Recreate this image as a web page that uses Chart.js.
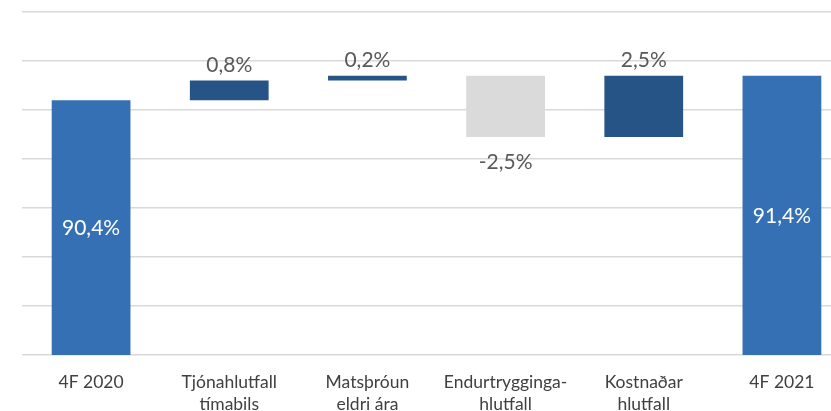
<!DOCTYPE html>
<html>
<head>
<meta charset="utf-8">
<script src="https://cdn.jsdelivr.net/npm/chart.js@4"></script>
<style>
  html, body { margin: 0; padding: 0; background: #fff; overflow: hidden; width: 831px; height: 411px; }
  #wrap { position: relative; width: 852px; height: 431px; }
</style>
</head>
<body>
<div id="wrap"><canvas id="chart"></canvas></div>
<script>
// ---- data ----
const categories = [
  '4F 2020',
  ['Tjónahlutfall', 'tímabils'],
  ['Matsþróun', 'eldri ára'],
  ['Endurtrygginga-', 'hlutfall'],
  ['Kostnaðar', 'hlutfall'],
  '4F 2021'
];
const startValue = 90.4;
const changes = [0.8, 0.2, -2.5, 2.5];
const endValue = 91.4;
const yTicks = { min: 80, max: 94, step: 2 };

const TOTAL_COLOR = '#3570b4';
const UP_COLOR = '#265486';
const DOWN_COLOR = '#d9dad9';
const LABEL_GREY = '#595959';

// build floating bars for the waterfall
const bars = [[yTicks.min, startValue]];
const barKinds = ['total'];
let running = startValue;
changes.forEach(c => {
  const next = Math.round((running + c) * 10) / 10;
  bars.push([Math.min(running, next), Math.max(running, next)]);
  barKinds.push(c >= 0 ? 'up' : 'down');
  running = next;
});
bars.push([yTicks.min, endValue]);
barKinds.push('total');
const labelValues = [startValue, ...changes, endValue];

const colorFor = k => k === 'total' ? TOTAL_COLOR : k === 'up' ? UP_COLOR : DOWN_COLOR;
const fmt = v => v.toFixed(1).replace('.', ',') + '%';

const labelPlugin = {
  id: 'wfLabels',
  afterDatasetsDraw(chart) {
    const ctx = chart.ctx;
    const meta = chart.getDatasetMeta(0);
    ctx.save();
    ctx.font = '21px Lato';
    ctx.textAlign = 'center';
    ctx.textBaseline = 'middle';
    meta.data.forEach((bar, i) => {
      const kind = barKinds[i];
      const top = Math.min(bar.y, bar.base);
      const bottom = Math.max(bar.y, bar.base);
      let y;
      if (kind === 'total') {
        ctx.fillStyle = '#ffffff';
        y = (top + bottom) / 2 + 1;
      } else if (kind === 'up') {
        ctx.fillStyle = LABEL_GREY;
        y = top - 15;
      } else {
        ctx.fillStyle = LABEL_GREY;
        y = bottom + 25;
      }
      ctx.fillText(fmt(labelValues[i]), bar.x, y);
    });
    ctx.restore();
  }
};

new Chart(document.getElementById('chart'), {
  type: 'bar',
  data: {
    labels: categories,
    datasets: [{
      data: bars,
      backgroundColor: barKinds.map(colorFor),
      borderWidth: 0,
      categoryPercentage: 1,
      barPercentage: 0.57
    }]
  },
  options: {
    responsive: true,
    maintainAspectRatio: false,
    animation: false,
    layout: { padding: { left: 22, right: 1, top: 12, bottom: 0 } },
    plugins: { legend: { display: false }, tooltip: { enabled: false } },
    scales: {
      x: {
        grid: { display: false, drawTicks: false },
        border: { display: false },
        ticks: {
          color: '#404040',
          font: { family: 'Lato', size: 17.5, lineHeight: 1.26 },
          padding: 16,
          maxRotation: 0,
          autoSkip: false
        }
      },
      y: {
        min: yTicks.min,
        max: yTicks.max,
        ticks: { display: false, stepSize: yTicks.step },
        grid: { color: '#d9d9d9', lineWidth: 1.5, drawTicks: false },
        border: { display: false }
      }
    }
  },
  plugins: [labelPlugin]
});
</script>
</body>
</html>
